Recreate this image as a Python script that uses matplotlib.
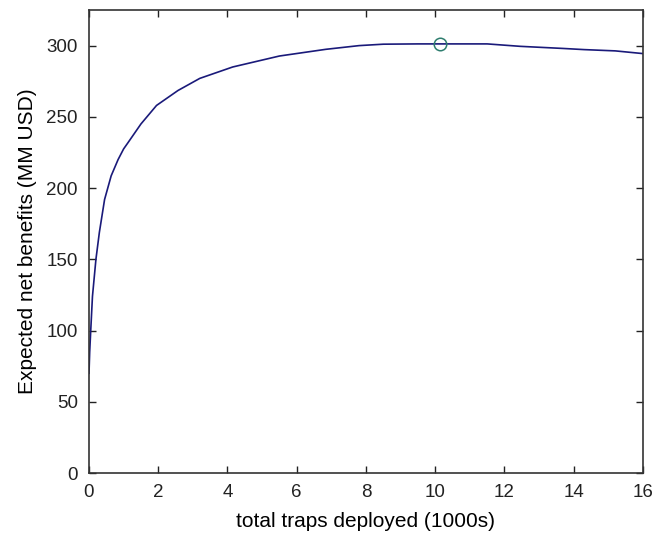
import matplotlib
matplotlib.use('Agg')
import matplotlib.pyplot as plt

# values
traps = [0, 0.02, 0.05, 0.1, 0.2, 0.3, 0.45, 0.64, 0.84, 1.0, 1.13, 1.5, 1.95,
         2.57, 3.2, 4.15, 5.5, 6.84, 7.8, 8.5, 9.5, 10.2, 11.5, 12.45, 13.7,
         14.3, 15.2, 16]
benefits = [70, 85, 100, 124, 150, 169, 192, 208.6, 220, 227.5, 232, 245, 258,
            268.5, 277, 285, 292.7, 297.4, 300, 301, 301.2, 301.2, 301.2, 299.5,
            298, 297.2, 296.3, 294.4]
best_x = [10.15]
best_y = [301]

plt.rcParams['font.family'] = ['Liberation Sans', 'DejaVu Sans']

fig = plt.figure(figsize=(6.57, 5.43), dpi=100)
ax = fig.add_axes([89/657, 1-473/543, (643-89)/657, (473-10)/543])
ax.plot(traps, benefits, color='#1a1a7a', lw=1.2)
ax.plot(best_x, best_y, 'o', mfc='none', mec='#2e7d6e', ms=9, mew=1.1)

ax.set_xlim(0, 16)
ax.set_ylim(0, 325)
ax.set_xticks(range(0, 17, 2))
ax.set_yticks(range(0, 301, 50))
ax.tick_params(direction='in', top=True, right=True, length=5, width=1,
               labelsize=13.5, pad=8, colors='#222222')
for s in ax.spines.values():
    s.set_linewidth(1.2)
    s.set_color('#333333')
ax.set_xlabel('total traps deployed (1000s)', fontsize=15, labelpad=8)
ax.set_ylabel('Expected net benefits (MM USD)', fontsize=15, labelpad=7)

plt.savefig('out.png', dpi=100)
